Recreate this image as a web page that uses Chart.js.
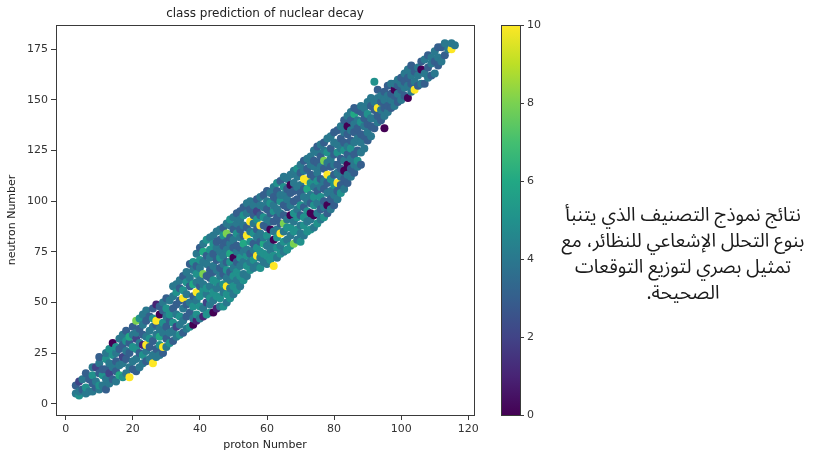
<!DOCTYPE html>
<html><head><meta charset="utf-8">
<script src="https://cdn.jsdelivr.net/npm/chart.js@4.4.0/dist/chart.umd.min.js"></script>
<style>
html,body{margin:0;padding:0;background:#fff;}
#wrap{position:relative;width:818px;height:460px;overflow:hidden;background:#fff;}
#c{position:absolute;left:0;top:0;}
#note{position:absolute;left:548px;top:202px;width:270px;text-align:center;direction:rtl;font-family:"Noto Sans Arabic","Noto Naskh Arabic","DejaVu Sans",sans-serif;font-size:19px;line-height:26px;color:#1a1a1a;}
</style></head>
<body><div id="wrap"><canvas id="c" width="818" height="460"></canvas>
<div id="note" dir="rtl">نتائج نموذج التصنيف الذي يتنبأ<br>بنوع التحلل الإشعاعي للنظائر، مع<br>تمثيل بصري لتوزيع التوقعات<br>الصحيحة.</div></div>
<script>
const chartTitle = 'class prediction of nuclear decay';
const xTitle = 'proton Number';
const yTitle = 'neutron Number';
const colorbarTicks = [0, 2, 4, 6, 8, 10];
const classRange = [0, 10];

// proton numbers (one group per proton number)
const protonNumber = [3,4,5,6,7,8,9,10,11,12,13,14,15,16,17,18,19,20,21,22,23,24,25,26,27,28,29,30,
 31,32,33,34,35,36,37,38,39,40,41,42,43,44,45,46,47,48,49,50,51,52,53,54,55,56,57,58,59,60,
 61,62,63,64,65,66,67,68,69,70,71,72,73,74,75,76,77,78,79,80,81,82,83,84,85,86,87,88,89,90,
 91,92,93,94,95,96,97,98,99,100,101,102,103,104,105,106,107,108,109,110,111,112,113,114,115,116];

// neutron numbers for each proton number
const neutronNumber = [
 [5,9],[4,6,11],[7,12],[5,8,15],[6,12],[6,10,14,18],[8,11,18],[7,9,15,20,23],[9,14,17],[7,12,17,22,25],
 [10,15,20,27],[12,18,24,30],[11,16,21,25,28],[14,19,27,32],[13,20,23,29,34],[15,22,26,31,36],[13,18,25,30,33],[17,21,28,34,38],[16,22,27,32,35,41],[18,25,30,37,42],
 [20,24,29,34,39,44],[21,26,29,33,41,46],[22,28,32,36,43],[20,24,31,38,42,47],[23,27,34,39,41,49],[24,29,33,37,44,48],[25,28,35,40,46,50],[28,32,38,43,47,52],
 [30,35,41,44,51],[31,36,40,47,53,58],[33,38,44,49,55,59],[34,39,43,51,57,61],[35,41,47,52,56,63],[37,43,49,54,60,65],[38,45,50,58,62,69],[39,42,48,53,59,66,70],
 [41,44,51,55,60,64,68,74],[42,48,53,58,61,67,71,77],[43,47,56,59,64,70,75,79],[44,50,54,57,63,69,73,81],[45,49,52,58,62,66,72,76,82],[45,51,55,61,65,68,74,79,83],
 [47,53,57,60,66,71,77,80,85],[48,52,58,63,67,72,75,81,86],[48,55,59,64,69,73,78,83,87],[50,54,58,62,66,70,76,80,84,89],[52,57,61,65,70,74,79,82,88,91],[54,58,63,67,72,77,81,86,92],
 [56,61,65,70,75,78,84,89,94],[58,63,68,72,77,82,86,91,95],[61,64,70,75,79,83,88,93,97],[63,68,73,76,83,87,94,99],[66,70,74,80,85,90,96,100],[67,71,76,79,84,89,93,98],
 [68,73,77,82,86,91,95,101],[67,72,75,80,84,88,93,98,102],[70,74,79,82,88,92,97,103],[69,73,78,83,87,91,96,100,105],
 [71,76,80,86,90,94,99,104],[68,73,77,81,85,90,95,98,102,107],[72,77,82,86,92,96,101,105,109],[74,78,84,89,94,100,103,110],[75,80,85,89,93,98,103,107,112],
 [76,81,87,91,97,101,106,111],[78,83,87,93,98,104,108,113],[79,85,90,94,100,105,109,115],[81,86,92,96,101,107,112,116],[80,84,88,93,98,104,108,114,118],
 [83,88,92,97,102,106,111,115,120],[85,90,95,100,106,110,116,121],[86,91,94,99,103,109,113,118,122],[87,93,98,102,107,112,117,120,125],[89,94,99,105,110,114,119,124,127],
 [91,96,102,107,111,117,122,128],[92,97,100,106,110,116,120,125,129],[94,98,104,109,113,119,124,131],[96,101,105,111,117,121,126,132],[98,103,108,113,118,123,129,134],
 [101,105,109,114,118,124,128,135],[104,108,112,116,121,126,131,137],[106,111,115,120,125,129,134,140],[109,113,118,123,127,133,137,142],[112,116,121,126,130,135,140,144],
 [114,118,123,129,134,138,143,146],[117,120,125,131,136,140,145],[118,124,129,133,139,144,147],[126,132,137,141,146],[130,134,138,143,149],
 [132,137,141,147,151],[136,141,145,149,159],[139,142,146,151,155],[140,145,149,152],[136,142,146,150,154],[144,147,152,157],[146,150,153,158],[147,152,155,158],
 [149,153,157,160],[150,155,158,161],[152,156,159,163],[151,157,161,165],[154,158,162,167],[155,159,164],[157,162,166],[158,165,169],[158,163,170],[161,166,172],
 [162,168,171],[163,169,174],[167,171,176],[169,176],[172,178],[175],[175,178],[177]
];

// predicted decay class for each point
const predictedClass = [
 [4,3],[5,4,2],[3,4],[4,5,3],[4,3],[4,3,5,4],[3,4,2],[4,5,3,4,3],[4,5,3],[3,4,3,5,4],
 [4,2,4,5],[3,4,5,0],[4,3,3,4,5],[6,4,3,4],[5,4,2,3,4],[4,3,4,5,3],[10,4,3,3,6],[3,4,5,4,3],[3,4,5,2,4,8],[4,3,4,3,5],
 [4,5,1,3,4,4],[3,4,10,4,3,4],[4,3,5,4,3],[10,4,3,4,5,3],[4,3,4,3,10,1],[4,5,6,4,0,3],[3,10,4,5,3,4],[4,3,3,4,5,3],
 [5,4,3,5,4],[3,4,5,3,4,4],[4,2,4,3,5,4],[5,4,5,3,3,4],[3,4,4,10,5,3],[4,3,3,4,5,4],[5,3,4,3,4,3],[0,4,5,3,6,4,5],
 [1,5,4,10,4,5,3,4],[4,5,5,3,4,4,5,3],[1,4,5,4,8,4,6,4],[5,2,4,5,3,4,3,5],[5,4,5,4,3,3,4,5,4],[0,4,5,5,3,4,3,5,4],
 [1,5,4,5,4,3,4,3,4],[4,5,4,4,3,5,4,3,4],[5,4,5,3,4,4,3,5,3],[4,5,10,4,5,3,4,3,8,4],[5,4,4,3,5,6,4,3,4,5],[4,5,5,4,0,3,4,3,4],
 [5,4,5,3,4,3,5,4,3],[4,5,4,5,3,4,3,4,3],[5,4,4,4,6,3,4,5,3],[4,5,5,4,10,3,4,4],[5,4,3,5,4,10,3,4],[4,5,4,3,5,4,3,4],
 [4,10,5,4,3,5,2,3],[5,4,5,3,4,10,3,4,4],[4,5,6,4,3,5,4,3],[4,5,4,5,3,4,3,4,3],
 [5,4,4,0,4,3,5,4],[10,5,4,0,4,3,5,4,3,4],[4,5,5,4,3,4,3,3,5],[5,4,10,3,4,5,4,3],[4,5,4,8,3,3,4,5,4],
 [5,4,5,4,3,4,3,4],[5,4,5,0,4,3,0,4],[8,5,4,5,3,3,4,4],[4,5,5,4,3,4,4,5],[5,4,4,3,5,3,4,3,4],
 [4,5,5,3,4,3,10,4,3],[5,4,5,4,6,10,3,4],[5,4,0,3,4,5,3,4,4],[4,0,5,5,4,3,4,3,4],[5,4,4,3,5,4,3,4,3],
 [4,3,5,4,3,4,3,4],[5,4,3,3,4,3,8,4,3],[3,0,4,3,10,4,5,4],[4,3,4,5,3,4,3,4],[3,4,5,3,4,3,4,3],
 [4,3,10,4,3,5,4,3],[5,3,4,3,3,4,3,4],[4,3,0,4,5,3,4,3],[3,4,0,3,4,3,0,4],[4,3,4,5,3,4,3,4],
 [3,4,3,4,3,4,6,3],[4,5,3,4,3,4,3],[3,4,4,3,5,3,4],[4,3,4,3,4],[3,4,3,5,4],
 [4,3,4,3,4],[3,4,3,4,5],[4,3,10,4,3],[3,4,3,4],[0,4,3,4,3],[4,3,4,3],[3,4,3,4],[4,3,0,4],
 [3,4,3,4],[4,3,4,3],[3,4,3,4],[0,4,3,4],[4,3,4,3],[10,4,3],[3,4,4],[4,0,3],[3,4,4],[4,3,3],
 [3,4,4],[4,3,4],[3,4,3],[4,3],[3,4],[4],[10,4],[4]
];

const viridis = ['#440154','#482475','#414487','#355f8d','#2a788e','#21918c','#22a884','#44bf70','#7ad151','#bddf26','#fde725'];
function viridisAt(t){
  t = Math.max(0, Math.min(1, t));
  const f = t * (viridis.length - 1), i = Math.floor(f), r = f - i;
  if (i >= viridis.length - 1) return viridis[viridis.length - 1];
  const a = viridis[i], b = viridis[i + 1];
  const p = k => parseInt(a.substr(k, 2), 16), q = k => parseInt(b.substr(k, 2), 16);
  const m = k => Math.round(p(k) + (q(k) - p(k)) * r);
  return 'rgb(' + m(1) + ',' + m(3) + ',' + m(5) + ')';
}

const points = [], colors = [];
protonNumber.forEach((z, gi) => {
  const ns = neutronNumber[gi] || [], cs = predictedClass[gi] || [];
  ns.forEach((n, k) => {
    points.push({x: z, y: n});
    const c = cs[k] !== undefined ? cs[k] : 4;
    colors.push(viridisAt((c - classRange[0]) / (classRange[1] - classRange[0])));
  });
});

const FONT = 'DejaVu Sans';
const frameAndExtras = {
  id: 'frameAndExtras',
  afterDatasetsDraw(chart) {
    const {ctx, chartArea: a} = chart;
    ctx.save();
    ctx.strokeStyle = '#3a3a3a';
    ctx.lineWidth = 1;
    ctx.strokeRect(Math.round(a.left) + 0.5, Math.round(a.top) + 0.5, Math.round(a.right - a.left), Math.round(a.bottom - a.top));
    ctx.restore();
  },
  afterDraw(chart) {
    const {ctx, chartArea: a} = chart;
    ctx.save();
    ctx.fillStyle = '#222';
    ctx.font = '12px "' + FONT + '"';
    ctx.textAlign = 'center';
    ctx.textBaseline = 'middle';
    ctx.fillText(chartTitle, (a.left + a.right) / 2, 14);
    const x0 = 501, x1 = 520, y0 = a.top, y1 = a.bottom;
    const g = ctx.createLinearGradient(0, y1, 0, y0);
    viridis.forEach((c, i) => g.addColorStop(i / (viridis.length - 1), c));
    ctx.fillStyle = g;
    ctx.fillRect(x0, y0, x1 - x0, y1 - y0);
    ctx.strokeStyle = '#3a3a3a';
    ctx.lineWidth = 1;
    ctx.strokeRect(x0 + 0.5, Math.round(y0) + 0.5, x1 - x0, Math.round(y1 - y0));
    ctx.font = '11px "' + FONT + '"';
    ctx.fillStyle = '#333';
    ctx.textAlign = 'left';
    colorbarTicks.forEach(v => {
      const y = y1 - (v - classRange[0]) / (classRange[1] - classRange[0]) * (y1 - y0);
      ctx.beginPath();
      ctx.moveTo(x1, Math.round(y) + 0.5);
      ctx.lineTo(x1 + 4, Math.round(y) + 0.5);
      ctx.stroke();
      ctx.fillText(String(v), x1 + 7, y);
    });
    ctx.restore();
  }
};

new Chart(document.getElementById('c'), {
  type: 'scatter',
  data: { datasets: [{ data: points, backgroundColor: colors, pointRadius: 4, pointHoverRadius: 4, borderWidth: 0 }] },
  options: {
    responsive: false,
    animation: false,
    devicePixelRatio: 1,
    layout: { padding: { left: 0, right: 344, top: 25, bottom: 0 } },
    plugins: { legend: { display: false }, tooltip: { enabled: false }, title: { display: false } },
    scales: {
      x: {
        type: 'linear', min: -2.9, max: 121.7,
        ticks: { stepSize: 20, includeBounds: false, color: '#333', font: { family: FONT, size: 11 }, padding: 3, maxRotation: 0 },
        grid: { display: true, drawOnChartArea: false, drawTicks: true, tickLength: 5, color: '#3a3a3a' },
        border: { display: true, color: '#3a3a3a' },
        title: { display: true, text: xTitle, color: '#222', font: { family: FONT, size: 11 }, padding: { top: 2, bottom: 8 } },
        afterFit(s) { s.height = 45; }
      },
      y: {
        type: 'linear', min: -5.6, max: 187,
        ticks: { stepSize: 25, includeBounds: false, color: '#333', font: { family: FONT, size: 11 }, padding: 3 },
        grid: { display: true, drawOnChartArea: false, drawTicks: true, tickLength: 5, color: '#3a3a3a' },
        border: { display: true, color: '#3a3a3a' },
        title: { display: true, text: yTitle, color: '#222', font: { family: FONT, size: 11 }, padding: { top: 6, bottom: 2 } },
        afterFit(s) { s.width = 56; }
      }
    }
  },
  plugins: [frameAndExtras]
});
</script>
</body></html>
